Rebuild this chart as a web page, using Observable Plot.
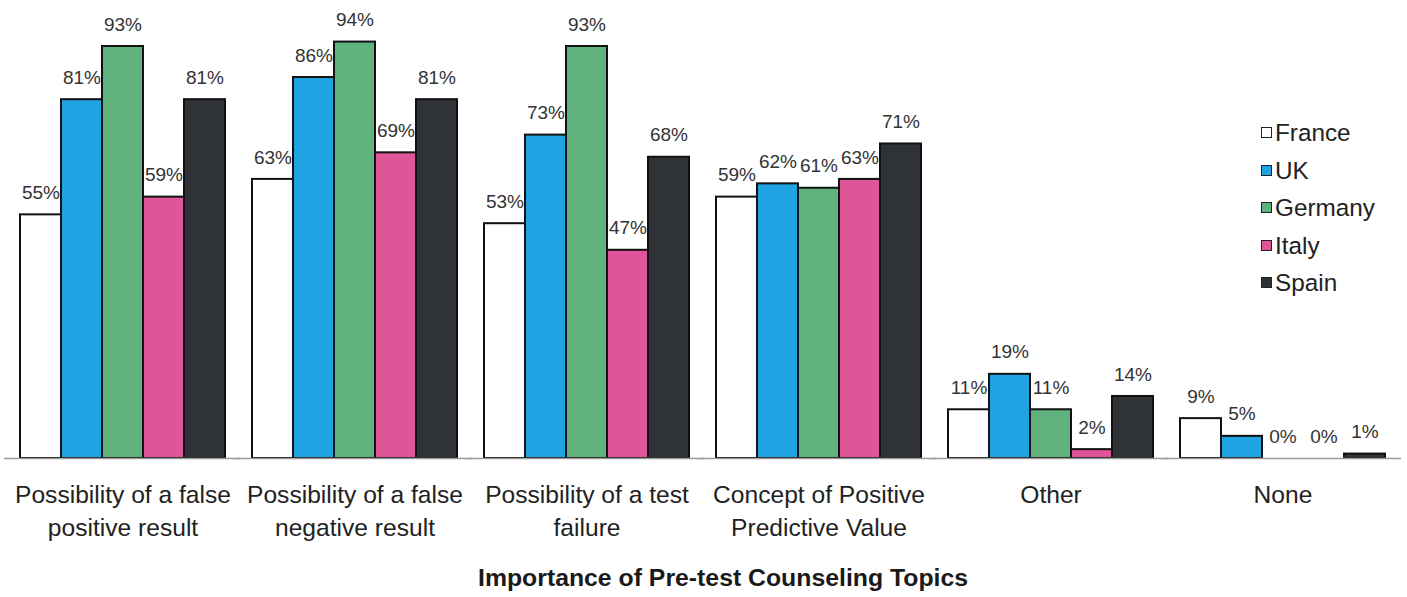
<!DOCTYPE html>
<html>
<head>
<meta charset="utf-8">
<script src="https://cdn.jsdelivr.net/npm/d3@7"></script>
<script src="https://cdn.jsdelivr.net/npm/@observablehq/plot@0.6"></script>
<style>
  html, body { margin: 0; padding: 0; background: #fff; }
  #wrap { position: relative; width: 1407px; height: 597px; font-family: "Liberation Sans", Arial, sans-serif; color: #222; }
  #title { position: absolute; left: 478px; top: 563px; white-space: nowrap; font-weight: bold; font-size: 24.8px; line-height: 30px; color: #1a1a1a; }
  #legend { position: absolute; left: 1261px; top: 114px; font-size: 24.3px; color: #222; }
  #legend .item { height: 37.5px; line-height: 37.5px; display: flex; align-items: center; }
  #legend .sw { width: 9px; height: 9px; border: 1.5px solid #222; margin-right: 3px; box-sizing: content-box; }
</style>
</head>
<body>
<div id="wrap">
  <div id="chart"></div>
  <div id="legend"></div>
  <div id="title"></div>
</div>
<script>
const topics = [
  "Possibility of a false\npositive result",
  "Possibility of a false\nnegative result",
  "Possibility of a test\nfailure",
  "Concept of Positive\nPredictive Value",
  "Other",
  "None"
];
const countries = ["France", "UK", "Germany", "Italy", "Spain"];
const colors = ["#ffffff", "#1fa3e2", "#5fb27e", "#e0559a", "#2f3338"];
const france  = [55, 63, 53, 59, 11, 9];
const uk      = [81, 86, 73, 62, 19, 5];
const germany = [93, 94, 93, 61, 11, 0];
const italy   = [59, 69, 47, 63, 2, 0];
const spain   = [81, 81, 68, 71, 14, 1];
const titleText = "Importance of Pre-test Counseling Topics";

const series = [france, uk, germany, italy, spain];
const data = [];
topics.forEach((t, i) => {
  countries.forEach((c, j) => {
    data.push({topic: t, country: c, value: series[j][i]});
  });
});

const chart = Plot.plot({
  width: 1407,
  height: 550,
  marginTop: 15,
  marginBottom: 92,
  marginLeft: 11,
  marginRight: 13,
  style: { fontFamily: "'Liberation Sans', Arial, sans-serif", background: "#fff", color: "#222" },
  fx: { domain: topics, paddingInner: 0.1, paddingOuter: 0.03, axis: null, label: null },
  x: { domain: countries, padding: 0, axis: null, label: null },
  y: { domain: [0, 100], axis: null, label: null },
  color: { domain: countries, range: colors },
  marks: [
    Plot.barY(data.filter(d => d.value > 0), {
      fx: "topic", x: "country", y: "value", fill: "country",
      stroke: "#111", strokeWidth: 2
    }),
    Plot.ruleY([0], { stroke: "#9a9a9a", strokeWidth: 1.5, insetLeft: -14, insetRight: -14 }),
    Plot.text(data, {
      fx: "topic", x: "country", y: "value", text: d => d.value + "%",
      dy: -22, fontSize: 19, fill: "#333"
    }),
    Plot.text(topics, {
      fx: d => d, text: d => d, frameAnchor: "bottom", lineAnchor: "top",
      dy: 21, fontSize: 24.6, lineHeight: 1.34, fill: "#222"
    })
  ]
});
document.getElementById("chart").appendChild(chart);

const legend = document.getElementById("legend");
countries.forEach((c, j) => {
  const item = document.createElement("div");
  item.className = "item";
  const sw = document.createElement("span");
  sw.className = "sw";
  sw.style.background = colors[j];
  item.appendChild(sw);
  item.appendChild(document.createTextNode(c));
  legend.appendChild(item);
});
document.getElementById("title").textContent = titleText;
</script>
</body>
</html>
